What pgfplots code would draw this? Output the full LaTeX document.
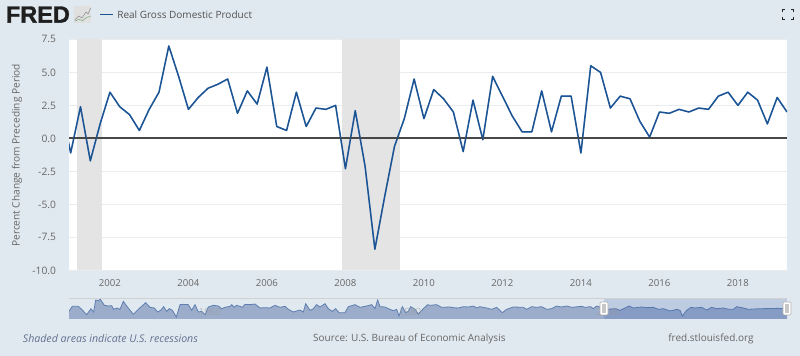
\documentclass[border=0pt]{standalone}
\usepackage{pgfplots}
\usepackage{pgfplotstable}
\usepackage{fontspec}
\setmainfont{Open Sans}
\newfontfamily\logofont{Liberation Sans}
\pgfplotsset{compat=1.18}
\definecolor{bgc}{HTML}{E1E9F0}
\definecolor{serc}{HTML}{1B5495}
\definecolor{txt}{HTML}{666666}
\definecolor{gridc}{HTML}{EAEDF0}
\definecolor{recc}{HTML}{E4E4E4}
\definecolor{navfill}{HTML}{9BADCA}
\definecolor{navline}{HTML}{5F7FB0}
\definecolor{selc}{HTML}{335CAD}
\pgfplotstableread{
x y
2000.75 2.4
2001.00 -1.1
2001.25 2.4
2001.50 -1.7
2001.75 1.1
2002.00 3.5
2002.25 2.4
2002.50 1.8
2002.75 0.6
2003.00 2.2
2003.25 3.5
2003.50 7.0
2003.75 4.7
2004.00 2.2
2004.25 3.1
2004.50 3.8
2004.75 4.1
2005.00 4.5
2005.25 1.9
2005.50 3.6
2005.75 2.6
2006.00 5.4
2006.25 0.9
2006.50 0.6
2006.75 3.5
2007.00 0.9
2007.25 2.3
2007.50 2.2
2007.75 2.5
2008.00 -2.3
2008.25 2.1
2008.50 -2.1
2008.75 -8.4
2009.00 -4.4
2009.25 -0.6
2009.50 1.5
2009.75 4.5
2010.00 1.5
2010.25 3.7
2010.50 3.0
2010.75 2.0
2011.00 -1.0
2011.25 2.9
2011.50 -0.1
2011.75 4.7
2012.00 3.2
2012.25 1.7
2012.50 0.5
2012.75 0.5
2013.00 3.6
2013.25 0.5
2013.50 3.2
2013.75 3.2
2014.00 -1.1
2014.25 5.5
2014.50 5.0
2014.75 2.3
2015.00 3.2
2015.25 3.0
2015.50 1.3
2015.75 0.1
2016.00 2.0
2016.25 1.9
2016.50 2.2
2016.75 2.0
2017.00 2.3
2017.25 2.2
2017.50 3.2
2017.75 3.5
2018.00 2.5
2018.25 3.5
2018.50 2.9
2018.75 1.1
2019.00 3.1
2019.25 2.0
}\gdp
\pgfplotstableread{
x y
12 58
22 43
40 43
50 52
65 68
78 50
86 60
92 24
100 26
106 22
118 40
130 42
140 41
146 52
156 48
165 52
175 28
185 42
205 67
222 50
242 32
255 46
268 48
278 60
288 54
296 44
305 58
313 50
322 55
334 75
345 38
356 37
370 38
380 55
390 38
400 60
410 58
420 68
430 45
445 40
460 42
470 50
480 46
495 43
500 38
508 46
514 40
525 43
532 46
540 37
555 38
570 36
585 48
600 47
615 48
630 40
645 46
660 43
670 52
685 60
705 54
715 60
722 35
735 55
745 50
755 38
765 45
780 35
790 50
802 58
812 50
822 62
840 62
850 44
870 38
885 46
905 42
920 38
930 50
938 24
945 44
960 45
970 50
985 56
995 52
1002 72
1012 44
1022 62
1030 58
1037 44
1050 52
1060 66
1075 50
1088 38
1095 40
1115 38
1130 46
1155 45
1165 47
1180 48
1195 44
1210 45
1225 42
1235 48
1245 44
1265 48
1280 52
1295 46
1312 62
1325 52
1345 45
1375 46
1385 52
1400 44
1415 46
1430 44
1445 52
1460 50
1475 42
1490 45
1505 42
1520 46
1550 43
1560 46
1577 44
1585 50
1595 42
1605 45
1630 52
1650 50
1665 55
1680 48
1692 42
1705 48
1730 45
1745 47
1765 46
1780 52
1795 50
1815 57
1825 55
1835 52
1845 55
1852 72
1865 55
1878 46
1890 48
1910 46
1925 54
1940 46
1955 50
1975 48
1992 52
2005 52
2015 44
2035 48
2050 52
2065 51
2095 50
2140 49
2155 50
2166 52
}\nav
\begin{document}
\begin{tikzpicture}[x=1pt,y=1pt]
% page background, 1 px = 0.75 pt
\fill[bgc] (0,0) rectangle (600,267);
% main chart
\begin{axis}[
  at={(51.75pt,64.2pt)}, anchor=south west,
  scale only axis, width=538.5pt, height=173.25pt,
  xmin=2000.957, xmax=2019.25, ymin=-10, ymax=7.5,
  axis line style={draw=none},
  axis background/.style={fill=white},
  xtick={2002,2004,2006,2008,2010,2012,2014,2016,2018},
  xticklabels={2002,2004,2006,2008,2010,2012,2014,2016,2018},
  ytick={-10,-7.5,-5,-2.5,0,2.5,5,7.5},
  yticklabels={-10.0,-7.5,-5.0,-2.5,0.0,2.5,5.0,7.5},
  major tick length=0pt,
  tick style={draw=none},
  ymajorgrids, grid style={gridc,line width=0.9pt},
  yticklabel style={font=\fontsize{7.7}{10}\selectfont,text=txt,xshift=-6.2pt},
  xticklabel style={font=\fontsize{7.2}{10}\selectfont,text=txt,yshift=-3pt},
  clip=true,
]
\addplot[fill=recc,draw=none] coordinates {(2001.16,-10)(2001.16,7.5)(2001.806,7.5)(2001.806,-10)} --cycle;
\addplot[fill=recc,draw=none] coordinates {(2007.908,-10)(2007.908,7.5)(2009.40,7.5)(2009.40,-10)} --cycle;
\addplot[serc,line width=1.1pt,line join=round] table[x=x,y=y] {\gdp};
\addplot[color=black!72,line width=1.5pt] coordinates {(2000.957,0)(2019.25,0)};
\addplot[serc,line width=1.1pt,line join=round,opacity=0.35] table[x=x,y=y] {\gdp};
\end{axis}
% navigator
\begin{axis}[
  at={(51.75pt,27.75pt)}, anchor=south west,
  scale only axis, width=538.5pt, height=15.75pt,
  xmin=12, xmax=2166, ymin=18, ymax=81, y dir=reverse,
  hide axis, clip=true,
]
\addplot[fill=navfill,draw=none] table[x=x,y=y] {\nav} -- (axis cs:2166,81) -- (axis cs:12,81) -- cycle;
\addplot[navline,line width=0.6pt] table[x=x,y=y] {\nav};
\addplot[fill=selc,fill opacity=0.2,draw=none] coordinates {(1617,18)(2166,18)(2166,81)(1617,81)} --cycle;
\end{axis}
% navigator frame, faint labels, handles
\draw[black!18,line width=0.6pt] (51.75,43.5) -- (590.25,43.5);
\node[text=black!40,opacity=.55,font=\fontsize{7.5}{9}\selectfont] at (157.5,33) {1960};
\node[text=black!40,opacity=.55,font=\fontsize{7.5}{9}\selectfont] at (307.5,33) {1980};
\node[text=black!40,opacity=.55,font=\fontsize{7.5}{9}\selectfont] at (456,33) {2000};
\foreach \hx in {453,590.25}{
  \fill[white,draw=black!30,line width=.5pt,rounded corners=.8pt] (\hx-3,30.75) rectangle (\hx+3,40.5);
  \fill[black!22] (\hx-1.4,32.5) rectangle (\hx+1.4,38.75);
}
% header
\node[anchor=base west,inner sep=0pt,font=\logofont\bfseries\fontsize{17.6}{18}\selectfont,text=black!88] at (4.3,250) {\addfontfeature{FakeBold=1.4}FRED};
\fill[black!12] (55.5,250) rectangle (68.5,262.5);
\draw[black!45,line width=.4pt] (56,252) -- (59,255) -- (61.5,253.5) -- (64.5,258) -- (66,256.5) -- (68,261);
\draw[green!35!black!50,line width=.4pt] (56,251) -- (59,252.5) -- (62,251.5) -- (65,254) -- (68,255);
\draw[serc,line width=1.1pt] (75,256) -- (84.5,256);
\node[anchor=west,inner sep=0pt,text=black!68,font=\fontsize{7.5}{10}\selectfont] at (87.8,255.7) {Real Gross Domestic Product};
% fullscreen icon
\foreach \sx/\sy in {1/1,-1/1,1/-1,-1/-1}{
  \draw[black!85,line width=.9pt] (591+\sx*3.9,256+\sy*1.7) -- (591+\sx*3.9,256+\sy*3.7) -- (591+\sx*1.9,256+\sy*3.7);
}
% y label
\node[rotate=90,inner sep=0pt,text=txt,font=\fontsize{7.6}{10}\selectfont] at (12.8,150.5) {Percent Change from Preceding Period};
% footer
\node[anchor=west,inner sep=0pt,text=selc!55!black!70,font=\itshape\fontsize{7.95}{10}\selectfont] at (17,13) {Shaded areas indicate U.S. recessions};
\node[anchor=west,inner sep=0pt,text=txt,font=\fontsize{7.5}{10}\selectfont] at (234.7,13) {Source: U.S. Bureau of Economic Analysis};
\node[anchor=west,inner sep=0pt,text=txt,font=\fontsize{7.5}{10}\selectfont] at (501,13) {fred.stlouisfed.org};
\end{tikzpicture}
\end{document}
